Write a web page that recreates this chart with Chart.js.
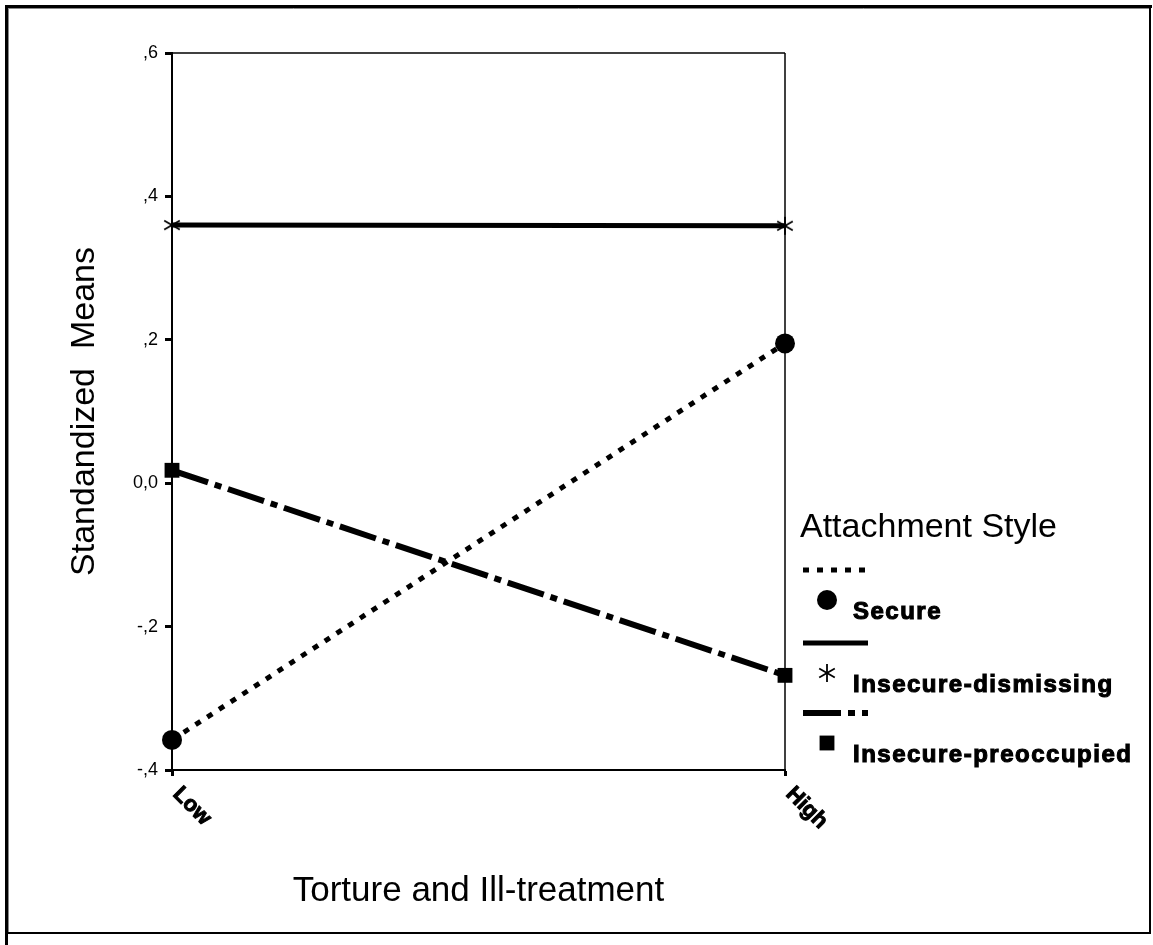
<!DOCTYPE html>
<html><head><meta charset="utf-8">
<script src="https://cdn.jsdelivr.net/npm/chart.js@4.4.1/dist/chart.umd.min.js"></script>
<style>html,body{margin:0;padding:0;background:#fff;} canvas{display:block;}</style>
</head><body>
<canvas id="c" width="1153" height="945"></canvas>
<script>
// ---- data ----
const categories = ['Low', 'High'];
const seriesNames = ['Secure', 'Insecure-dismissing', 'Insecure-preoccupied'];
const secure = [-0.358, 0.195];
const dismissing = [0.360, 0.359];
const preoccupied = [0.018, -0.268];
const yTickValues = [-0.4, -0.2, 0, 0.2, 0.4, 0.6];
const yTickLabels = ['-,4', '-,2', '0,0', ',2', ',4', ',6'];
const xTitle = 'Torture and Ill-treatment';
const yTitle = 'Standandized  Means';
const legendTitle = 'Attachment Style';

const FONT = "'Liberation Sans', Arial, sans-serif";
Chart.defaults.font.family = FONT;
Chart.defaults.color = '#000';

// asterisk marker
function makeStar() {
  const c = document.createElement('canvas');
  c.width = 22; c.height = 22;
  const g = c.getContext('2d');
  g.strokeStyle = '#000'; g.lineWidth = 1.8;
  const r = 9;
  [90, 30, 150].forEach(a => {
    const t = a * Math.PI / 180;
    g.beginPath();
    g.moveTo(11 - r * Math.cos(t), 11 - r * Math.sin(t));
    g.lineTo(11 + r * Math.cos(t), 11 + r * Math.sin(t));
    g.stroke();
  });
  return c;
}
const star = makeStar();

const datasets = [
  { label: seriesNames[0], data: secure, borderColor: '#000', backgroundColor: '#000',
    borderWidth: 5, borderDash: [6, 8], pointStyle: 'circle', pointRadius: 10,
    pointBackgroundColor: '#000', pointBorderWidth: 0, clip: false },
  { label: seriesNames[1], data: dismissing, borderColor: '#000', backgroundColor: '#000',
    borderWidth: 5, borderDash: [], pointStyle: star, pointRadius: 10,
    pointBackgroundColor: '#000', pointBorderWidth: 0, clip: false },
  { label: seriesNames[2], data: preoccupied, borderColor: '#000', backgroundColor: '#000',
    borderWidth: 6, borderDash: [38, 7, 7, 7], pointStyle: 'rect', pointRadius: 10.5,
    pointBackgroundColor: '#000', pointBorderWidth: 0, clip: false }
];

function seg(ctx, x1, y1, x2, y2) { ctx.beginPath(); ctx.moveTo(x1, y1); ctx.lineTo(x2, y2); ctx.stroke(); }

const decor = {
  id: 'decor',
  beforeDraw(chart) {
    const ctx = chart.ctx;
    ctx.save();
    ctx.fillStyle = '#fff'; ctx.fillRect(0, 0, chart.width, chart.height);
    ctx.strokeStyle = '#000';
    ctx.lineWidth = 3;
    seg(ctx, 6.5, 5, 6.5, 945);
    seg(ctx, 5, 6.5, 1152, 6.5);
    ctx.strokeStyle = '#888'; ctx.lineWidth = 1;
    seg(ctx, 8.5, 8, 8.5, 932);
    seg(ctx, 8, 8.5, 1149, 8.5);
    ctx.strokeStyle = '#000'; ctx.lineWidth = 2;
    seg(ctx, 1150, 5, 1150, 934);
    seg(ctx, 5, 933, 1151, 933);
    ctx.restore();
  },
  beforeDatasetsDraw(chart) {
    const ctx = chart.ctx, a = chart.chartArea;
    ctx.save();
    ctx.strokeStyle = '#000'; ctx.lineWidth = 1.5;
    seg(ctx, a.left, a.top, a.right, a.top);
    seg(ctx, a.right, a.top, a.right, a.bottom);
    ctx.restore();
  },
  afterDraw(chart) {
    const ctx = chart.ctx;
    const xs = chart.scales.x;
    // rotated category labels
    ctx.save();
    ctx.fillStyle = '#000'; ctx.strokeStyle = '#000';
    ctx.font = 'bold 22px ' + FONT;
    ctx.lineWidth = 1;
    categories.forEach((c, i) => {
      const px = xs.getPixelForValue(i);
      ctx.save();
      ctx.translate(px + 12, xs.top + 13);
      ctx.rotate(Math.PI / 4);
      ctx.textAlign = 'left'; ctx.textBaseline = 'top';
      ctx.fillText(c, 0, 0);
      ctx.strokeText(c, 0, 0);
      ctx.restore();
    });
    ctx.restore();

    // legend
    ctx.save();
    ctx.fillStyle = '#000'; ctx.strokeStyle = '#000';
    ctx.font = '34px ' + FONT;
    ctx.textAlign = 'left'; ctx.textBaseline = 'middle';
    ctx.fillText(legendTitle, 800, 528);
    const rows = [570, 643, 713];
    chart.data.datasets.forEach((ds, i) => {
      const ly = rows[i];
      ctx.save();
      ctx.lineWidth = ds.borderWidth;
      ctx.setLineDash(ds.borderDash || []);
      ctx.lineCap = 'butt';
      seg(ctx, 803, ly, 868, ly);
      ctx.restore();
      ctx.fillStyle = '#000';
      Chart.helpers.drawPoint(ctx, { pointStyle: ds.pointStyle, radius: ds.pointRadius, rotation: 0, borderWidth: 0 }, 827, ly + 30);
      ctx.save();
      ctx.font = 'bold 24px ' + FONT;
      try { ctx.letterSpacing = '1.5px'; } catch (e) {}
      ctx.lineWidth = 1.1;
      ctx.textBaseline = 'middle';
      ctx.fillText(ds.label, 853, ly + 42);
      ctx.strokeText(ds.label, 853, ly + 42);
      ctx.restore();
    });
    ctx.restore();
  }
};

new Chart(document.getElementById('c'), {
  type: 'line',
  data: { labels: categories, datasets },
  options: {
    responsive: false,
    animation: false,
    events: [],
    layout: { padding: { left: 0, top: 53, right: 368, bottom: 0 } },
    plugins: { legend: { display: false }, tooltip: { enabled: false } },
    scales: {
      x: {
        type: 'category', offset: false,
        ticks: { display: false },
        grid: { drawOnChartArea: false, drawTicks: true, tickLength: 6, tickWidth: 3, tickColor: '#000', offset: false },
        border: { display: true, color: '#000', width: 2 },
        title: { display: true, text: xTitle, color: '#000', font: { size: 35 }, padding: { top: 0, bottom: 33 } },
        afterFit(s) { s.height = 175; }
      },
      y: {
        min: -0.4, max: 0.6,
        afterBuildTicks(s) { s.ticks = yTickValues.map(v => ({ value: v })); },
        ticks: {
          color: '#000', font: { size: 18 }, padding: 7,
          callback(v) {
            const i = yTickValues.findIndex(t => Math.abs(t - v) < 1e-6);
            return i >= 0 ? yTickLabels[i] : '';
          }
        },
        grid: { drawOnChartArea: false, drawTicks: true, tickLength: 7, tickWidth: 3, tickColor: '#000' },
        border: { display: true, color: '#000', width: 2 },
        title: { display: true, text: yTitle, color: '#000', font: { size: 34 }, padding: { top: 64, bottom: 0 } },
        afterFit(s) { s.width = 172; }
      }
    }
  },
  plugins: [decor]
});
</script>
</body></html>
